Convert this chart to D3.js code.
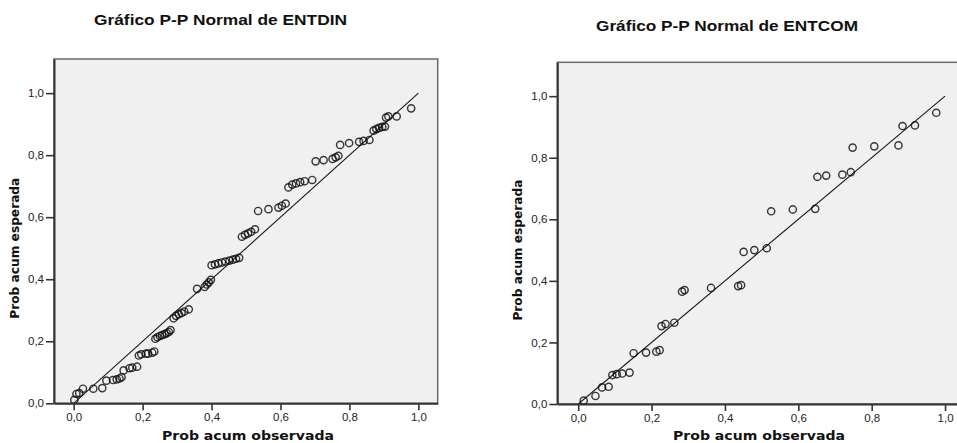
<!DOCTYPE html>
<html><head><meta charset="utf-8">
<script src="https://cdn.jsdelivr.net/npm/d3@7"></script>
<style>html,body{margin:0;padding:0;background:#fff;overflow:hidden}</style>
</head><body>
<svg id="chart" width="957" height="443"></svg>
<script>
const titles = ["Gráfico P-P Normal de ENTDIN", "Gráfico P-P Normal de ENTCOM"];
const xLabel = "Prob acum observada";
const yLabel = "Prob acum esperada";
const tickValues = [0, 0.2, 0.4, 0.6, 0.8, 1.0];

const entdinObserved = [0.002,0.008,0.016,0.027,0.057,0.083,0.095,0.114,0.125,0.133,0.139,0.145,0.162,0.170,0.184,0.189,0.196,0.210,0.216,0.228,0.234,0.237,0.243,0.250,0.257,0.264,0.270,0.276,0.281,0.290,0.297,0.305,0.313,0.321,0.334,0.358,0.380,0.386,0.392,0.398,0.400,0.410,0.420,0.430,0.440,0.452,0.462,0.471,0.480,0.488,0.497,0.506,0.515,0.526,0.535,0.565,0.594,0.604,0.615,0.623,0.634,0.645,0.657,0.670,0.692,0.702,0.725,0.751,0.760,0.768,0.773,0.799,0.828,0.841,0.858,0.870,0.878,0.886,0.895,0.903,0.906,0.913,0.937,0.979];
const entdinExpected = [0.011,0.030,0.033,0.047,0.047,0.049,0.073,0.075,0.077,0.080,0.084,0.106,0.113,0.115,0.118,0.154,0.158,0.160,0.160,0.163,0.167,0.208,0.213,0.217,0.220,0.223,0.226,0.230,0.236,0.274,0.282,0.287,0.291,0.296,0.303,0.369,0.375,0.383,0.390,0.398,0.445,0.448,0.451,0.454,0.457,0.460,0.463,0.466,0.469,0.537,0.543,0.548,0.553,0.561,0.620,0.626,0.631,0.637,0.644,0.696,0.705,0.709,0.713,0.716,0.720,0.780,0.784,0.788,0.793,0.798,0.833,0.839,0.843,0.846,0.849,0.879,0.884,0.888,0.891,0.892,0.921,0.925,0.925,0.951];

const entcomObserved = [0.015,0.047,0.065,0.083,0.093,0.105,0.120,0.140,0.151,0.185,0.213,0.222,0.227,0.238,0.262,0.283,0.290,0.362,0.436,0.444,0.451,0.480,0.514,0.526,0.585,0.646,0.652,0.676,0.720,0.743,0.748,0.807,0.873,0.884,0.918,0.976];
const entcomExpected = [0.011,0.026,0.054,0.056,0.094,0.097,0.099,0.102,0.165,0.167,0.170,0.175,0.253,0.260,0.264,0.365,0.370,0.377,0.383,0.386,0.494,0.500,0.506,0.626,0.632,0.634,0.738,0.742,0.745,0.753,0.833,0.837,0.840,0.903,0.905,0.946];

const panels = [
  {title: titles[0], obs: entdinObserved, exp: entdinExpected,
   left: 54, right: 437.7, top: 59, bottom: 403.3, titleX: 220.5, titleY: 25, titleLen: 253, xLabX: 248},
  {title: titles[1], obs: entcomObserved, exp: entcomExpected,
   left: 557.3, right: 965.6, top: 62.3, bottom: 404, titleX: 727, titleY: 31, titleLen: 262, xLabX: 759}
];

const svg = d3.select("#chart");
const fmt = v => d3.format(".1f")(v).replace(".", ",");

panels.forEach(p => {
  const x = d3.scaleLinear().domain([-0.057, 1.056]).range([p.left, p.right]);
  const y = d3.scaleLinear().domain([0, 1.11]).range([p.bottom, p.top]);
  const g = svg.append("g");

  g.append("text").attr("x", p.titleX).attr("y", p.titleY)
    .attr("text-anchor", "middle")
    .attr("textLength", p.titleLen).attr("lengthAdjust", "spacingAndGlyphs")
    .style("font-family", "'Liberation Sans', Arial, sans-serif")
    .style("font-weight", "bold").style("font-size", "15.5px").attr("fill", "#111")
    .text(p.title);

  g.append("rect").attr("x", p.left).attr("y", p.top)
    .attr("width", p.right - p.left).attr("height", p.bottom - p.top)
    .attr("fill", "#f0f0f0").attr("stroke", "#6a6a6a").attr("stroke-width", 1.5);

  g.append("line")
    .attr("x1", x(0)).attr("y1", y(0)).attr("x2", x(1)).attr("y2", y(1))
    .attr("stroke", "#1a1a1a").attr("stroke-width", 1.1);

  g.append("g").selectAll("circle").data(p.obs.map((o, i) => [o, p.exp[i]]))
    .join("circle")
    .attr("cx", d => x(d[0])).attr("cy", d => y(d[1])).attr("r", 3.6)
    .attr("fill", "none").attr("stroke", "#0a0a0a").attr("stroke-opacity", 0.8)
    .attr("stroke-width", 1.45);

  const xAxis = g.append("g").attr("transform", `translate(0,${p.bottom})`)
    .call(d3.axisBottom(x).tickValues(tickValues).tickFormat(fmt).tickSize(7).tickPadding(3).tickSizeOuter(0));
  const yAxis = g.append("g").attr("transform", `translate(${p.left},0)`)
    .call(d3.axisLeft(y).tickValues(tickValues).tickFormat(fmt).tickSize(8).tickPadding(2).tickSizeOuter(0));
  [xAxis, yAxis].forEach(a => {
    a.select(".domain").attr("stroke", "#333").attr("stroke-width", 2);
    a.selectAll(".tick line").attr("stroke", "#333").attr("stroke-width", 1.6);
    a.selectAll(".tick text").attr("fill", "#222")
      .style("font-family", "'Liberation Sans', Arial, sans-serif").style("font-size", "11.5px");
  });

  g.append("text").attr("x", p.xLabX).attr("y", 440)
    .attr("text-anchor", "middle")
    .attr("textLength", 172).attr("lengthAdjust", "spacingAndGlyphs")
    .style("font-family", "'DejaVu Sans', Verdana, sans-serif")
    .style("font-weight", "bold").style("font-size", "12.5px").attr("fill", "#111")
    .text(xLabel);

  g.append("text")
    .attr("transform", `translate(${p.left - 35},${y(0.5)}) rotate(-90)`)
    .attr("text-anchor", "middle")
    .style("font-family", "'DejaVu Sans', Verdana, sans-serif")
    .style("font-weight", "bold").style("font-size", "12.2px").attr("fill", "#111")
    .text(yLabel);
});
</script>
</body></html>
